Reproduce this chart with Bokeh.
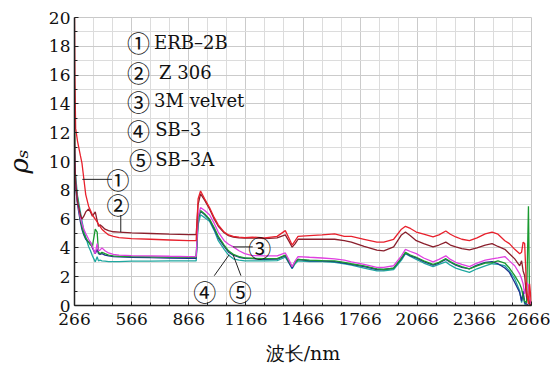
from bokeh.plotting import figure
from bokeh.models import FixedTicker, Label
from bokeh.embed import file_html
from bokeh.resources import INLINE

# ---------------- data ----------------
wavelength = [266, 268, 272, 282, 297, 305, 315, 325, 340, 350, 360, 375, 385, 392, 400, 410, 426, 445, 470, 500,
              566, 666, 766, 866, 905, 915, 928, 950, 975, 1000, 1021, 1052, 1075, 1100, 1130, 1160, 1200, 1266,
              1330, 1373, 1395, 1409, 1425, 1440, 1500, 1566, 1632, 1683, 1720, 1787, 1854, 1890, 1942, 1983,
              2004, 2030, 2061, 2100, 2149, 2180, 2216, 2240, 2268, 2300, 2340, 2380, 2423, 2459, 2490, 2526,
              2550, 2578, 2604, 2614, 2622, 2630, 2640, 2650, 2656, 2666]

erb_2b = [20, 16, 12.3, 11.4, 10.4, 9.9, 8.8, 7.7, 6.9, 6.6, 6.3, 6.0, 5.8, 5.65, 5.5, 5.3, 5.1, 4.9, 4.8, 4.72,
          4.65, 4.6, 4.55, 4.5, 4.5, 7.4, 7.95, 7.4, 6.8, 6.1, 5.6, 5.1, 4.9, 4.8, 4.75, 4.72, 4.75, 4.7,
          4.8, 5.2, 4.6, 4.2, 4.5, 4.8, 4.85, 4.9, 4.97, 4.8, 4.8, 4.6, 4.4, 4.4, 4.6, 5.3,
          5.5, 5.35, 5.1, 4.95, 4.76, 4.9, 5.17, 4.95, 4.76, 4.6, 4.5, 4.7, 4.97, 5.1, 4.95, 4.5,
          4.3, 3.9, 3.6, 3.7, 4.4, 4.3, 1.2, 0.1, 1.5, 0]

z_306 = [12, 10, 8.5, 7.2, 6.3, 6.0, 6.2, 6.5, 6.7, 6.5, 6.2, 6.5, 5.9, 5.5, 5.6, 5.5, 5.3, 5.2, 5.12, 5.1,
         5.05, 5.0, 4.95, 4.92, 4.92, 7.0, 7.75, 7.3, 6.7, 6.0, 5.5, 5.05, 4.85, 4.75, 4.7, 4.68, 4.7, 4.65,
         4.7, 4.9, 4.4, 4.05, 4.3, 4.6, 4.6, 4.6, 4.6, 4.5, 4.4, 4.1, 3.85, 3.8, 4.07, 4.9,
         5.1, 4.85, 4.5, 4.3, 4.07, 4.2, 4.4, 4.2, 4.07, 3.95, 3.86, 4.0, 4.2, 4.3, 4.1, 3.9,
         3.6, 3.24, 2.76, 3.1, 2.4, 2.07, 0.6, 0.3, 0.1, 0]

velvet_3m = [11.3, 10, 8.5, 7.2, 6.1, 5.7, 5.3, 5.0, 4.6, 4.4, 4.1, 3.6, 4.3, 3.8, 3.85, 4.0, 3.8, 3.65, 3.55, 3.5,
             3.47, 3.45, 3.42, 3.4, 3.4, 6.2, 6.8, 6.6, 6.3, 5.7, 5.1, 4.5, 4.25, 4.07, 3.8, 3.6, 3.47, 3.45,
             3.45, 3.65, 3.1, 2.7, 3.1, 3.4, 3.35, 3.3, 3.24, 3.15, 3.03, 2.85, 2.65, 2.65, 2.76, 3.45,
             3.9, 3.75, 3.6, 3.3, 3.03, 3.2, 3.45, 3.2, 3.0, 2.85, 2.7, 2.95, 3.15, 3.24, 3.3, 3.4,
             3.1, 2.76, 2.2, 1.86, 1.5, 0.8, 1.6, 1.4, 0.5, 0]

sb_3 = [15.2, 10.5, 8.5, 7.5, 6.0, 5.5, 5.0, 4.7, 4.4, 4.2, 4.1, 5.3, 5.1, 3.7, 3.6, 3.7, 3.6, 3.5, 3.45, 3.42,
        3.4, 3.38, 3.36, 3.35, 3.35, 6.0, 6.6, 6.35, 6.0, 5.4, 4.8, 4.2, 3.8, 3.55, 3.4, 3.3, 3.28, 3.25,
        3.25, 3.5, 3.0, 2.7, 3.0, 3.2, 3.15, 3.12, 3.1, 3.0, 2.9, 2.75, 2.55, 2.5, 2.6, 3.3,
        3.7, 3.5, 3.35, 3.1, 2.85, 3.0, 3.25, 3.05, 2.85, 2.7, 2.55, 2.75, 2.95, 2.97, 3.1, 2.95,
        2.6, 2.07, 1.5, 1.17, 0.6, 0.3, 0.2, 6.9, 0.1, 0]

sb_3_dark = [10.5, 9.5, 8.2, 7.0, 5.8, 5.3, 4.9, 4.6, 4.4, 4.4, 4.0, 3.6, 3.9, 3.6, 3.55, 3.6, 3.5, 3.45, 3.4, 3.38,
             3.35, 3.32, 3.3, 3.28, 3.28, 6.0, 6.55, 6.3, 5.95, 5.3, 4.7, 4.1, 3.7, 3.5, 3.35, 3.28, 3.25, 3.2,
             3.22, 3.45, 2.9, 2.6, 3.05, 3.2, 3.1, 3.1, 3.05, 2.95, 2.85, 2.7, 2.5, 2.5, 2.6, 3.25,
             3.65, 3.45, 3.3, 3.05, 2.8, 2.95, 3.2, 3.0, 2.8, 2.65, 2.55, 2.8, 3.0, 3.05, 2.9, 2.6,
             2.3, 1.6, 0.9, 0.3, 1.0, 0.2, 0.1, 0, 0, 0]

sb_3a = [10, 9.5, 9.0, 7.6, 6.5, 5.9, 5.2, 4.76, 4.1, 3.8, 3.45, 3.03, 3.38, 3.1, 3.15, 3.1, 3.08, 3.05, 3.05, 3.05,
         3.08, 3.08, 3.1, 3.1, 3.1, 5.6, 6.3, 6.1, 5.85, 5.2, 4.5, 3.9, 3.5, 3.24, 3.15, 3.1, 3.1, 3.1,
         3.12, 3.35, 2.9, 2.55, 2.9, 3.1, 3.05, 3.05, 3.0, 2.9, 2.8, 2.6, 2.4, 2.4, 2.5, 3.15,
         3.6, 3.4, 3.2, 2.95, 2.7, 2.85, 3.03, 2.8, 2.6, 2.45, 2.3, 2.55, 2.75, 2.9, 2.85, 2.76,
         2.4, 1.86, 1.03, 0.2, 0.8, 0.1, 0, 0, 0, 0]

x_ticks = [266, 566, 866, 1166, 1466, 1766, 2066, 2366, 2666]
x_minor = [366, 466, 666, 766, 966, 1066, 1266, 1366, 1566, 1666, 1866, 1966, 2166, 2266, 2466, 2566]
y_ticks = [0, 2, 4, 6, 8, 10, 12, 14, 16, 18, 20]
y_minor = [1, 3, 5, 7, 9, 11, 13, 15, 17, 19]

legend_marks = ["\u2460", "\u2461", "\u2462", "\u2463", "\u2464"]
legend_names = ["ERB\u20132B", "Z 306", "3M velvet", "SB\u20133", "SB\u20133A"]
callout_labels = ["\u2460", "\u2461", "\u2462", "\u2463", "\u2464"]

FONT = "DejaVu Serif"
CIRCLE_FONT = "Noto Sans CJK SC"

# ---------------- figure ----------------
p = figure(width=550, height=366, x_range=(266, 2666), y_range=(0, 20),
           output_backend="svg", toolbar_location=None,
           min_border_left=66, min_border_right=19, min_border_top=17, min_border_bottom=59)
p.background_fill_color = "white"
p.border_fill_color = "white"
p.outline_line_color = "#c8c8c8"
p.outline_line_width = 1

xt = FixedTicker(ticks=x_ticks, minor_ticks=x_minor)
yt = FixedTicker(ticks=y_ticks, minor_ticks=y_minor)
p.xaxis.ticker = xt
p.yaxis.ticker = yt
p.xgrid.ticker = xt
p.ygrid.ticker = yt
for g in (p.xgrid, p.ygrid):
    g.grid_line_color = "#cbcbcb"
    g.grid_line_width = 1
    g.minor_grid_line_color = "#dcdcdc"
    g.minor_grid_line_width = 1

for ax in (p.xaxis, p.yaxis):
    ax.axis_line_color = "#222222"
    ax.axis_line_width = 1.5
    ax.major_tick_line_color = "#222222"
    ax.minor_tick_line_color = "#222222"
    ax.major_tick_in = 4
    ax.major_tick_out = 0
    ax.minor_tick_in = 3
    ax.minor_tick_out = 0
    ax.major_label_text_font = FONT
    ax.major_label_text_font_size = "17px"
    ax.major_label_text_color = "#111111"

p.xaxis.major_label_standoff = 7
p.yaxis.major_label_standoff = 4
p.xaxis.axis_label = "波长/nm"
p.xaxis.axis_label_text_font = FONT
p.xaxis.axis_label_text_font_size = "19px"
p.xaxis.axis_label_text_font_style = "normal"
p.xaxis.axis_label_text_color = "#111111"
p.xaxis.axis_label_standoff = 14

p.yaxis.axis_label = "ρ\u209b"
p.yaxis.axis_label_text_font = FONT
p.yaxis.axis_label_text_font_size = "26px"
p.yaxis.axis_label_text_font_style = "italic"
p.yaxis.axis_label_text_color = "#111111"
p.yaxis.axis_label_standoff = 12

# ---------------- series ----------------
series = [
    (sb_3a, "#20a8a0"),
    (sb_3_dark, "#1f2f8f"),
    (sb_3, "#1a9a30"),
    (velvet_3m, "#e040e0"),
    (z_306, "#8a1f2c"),
    (erb_2b, "#e8202c"),
]
for ys, col in series:
    p.line(wavelength, ys, line_color=col, line_width=1.3)

# ---------------- legend text ----------------
mark_x = [542, 542, 542, 542, 552]
name_x = [684, 710, 684, 690, 690]
legend_y = [18.28, 16.21, 14.21, 12.21, 10.14]
for m, t, mx, nx, ly in zip(legend_marks, legend_names, mark_x, name_x, legend_y):
    p.add_layout(Label(x=mx, y=ly, text=m, text_font=CIRCLE_FONT, text_font_size="23px",
                       text_color="#111111", text_align="left", text_baseline="middle"))
    p.add_layout(Label(x=nx, y=ly, text=t, text_font=FONT, text_font_size="18px",
                       text_color="#111111", text_align="left", text_baseline="middle"))

# ---------------- callouts ----------------
callout_x = [494, 494, 1239, 950, 1136]
callout_y = [8.76, 7.03, 4.07, 1.03, 1.03]
for t, cx, cy in zip(callout_labels, callout_x, callout_y):
    p.add_layout(Label(x=cx, y=cy, text=t, text_font=CIRCLE_FONT, text_font_size="23px",
                       text_color="#111111", text_align="center", text_baseline="middle"))

leader_x = [[307, 463], [509, 509], [1099, 1202], [1000, 1078], [1099, 1140]]
leader_y = [[8.76, 8.76], [6.28, 5.1], [4.07, 4.07], [2.07, 3.52], [3.52, 2.07]]
p.multi_line(leader_x, leader_y, line_color="#222222", line_width=1)

open("out.html", "w").write(file_html(p, INLINE))
